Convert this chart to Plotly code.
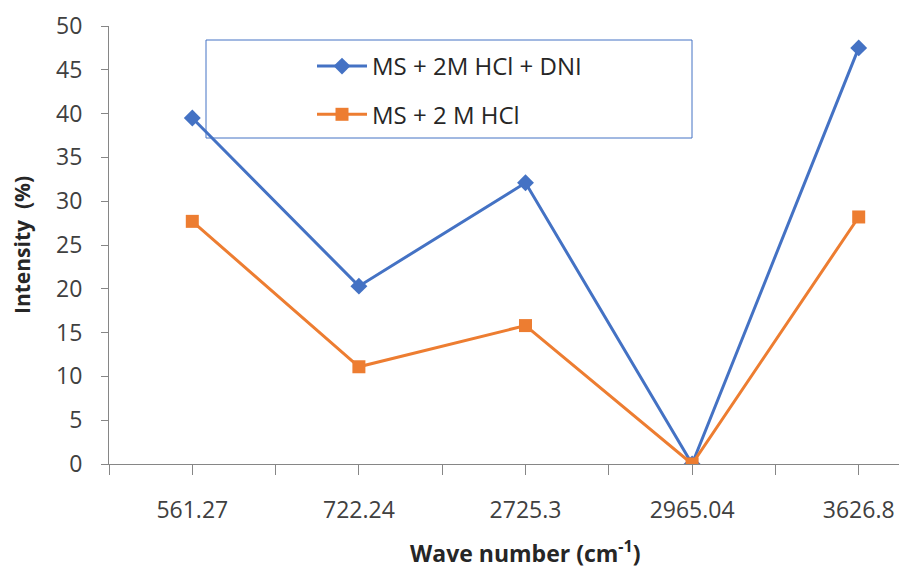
import plotly.graph_objects as go

categories = ["561.27", "722.24", "2725.3", "2965.04", "3626.8"]
dni_values = [39.5, 20.3, 32.1, 0.0, 47.5]
hcl_values = [27.7, 11.1, 15.8, 0.0, 28.2]
series_names = ["MS + 2M HCl + DNI", "MS + 2 M HCl"]
y_ticks = [0, 5, 10, 15, 20, 25, 30, 35, 40, 45, 50]

FONT = "Open Sans"
BLUE = "#4472C4"
ORANGE = "#ED7D31"
AXIS = "#868686"

xpos = list(range(len(categories)))

fig = go.Figure()
fig.add_trace(go.Scatter(
    x=xpos, y=dni_values, name=series_names[0], mode="lines+markers",
    line=dict(color=BLUE, width=3),
    marker=dict(symbol="diamond", size=13, color=BLUE),
    legendgroup="a",
))
fig.add_trace(go.Scatter(
    x=xpos, y=hcl_values, name=series_names[1], mode="lines+markers",
    line=dict(color=ORANGE, width=3),
    marker=dict(symbol="square", size=13, color=ORANGE),
    legendgroup="b",
))

W, H = 899, 571
L, R, T, B = 109, 0, 26, 107
pw = W - L - R
ph = H - T - B

def px_x(p):
    return (p - L) / pw

def px_y(p):
    return (H - B - p) / ph

step = 166.6
xmax = -0.5 + pw / step

fig.update_layout(
    width=W, height=H,
    margin=dict(l=L, r=R, t=T, b=B, pad=0),
    paper_bgcolor="white", plot_bgcolor="white",
    font=dict(family=FONT, color="#404040", size=22),
    showlegend=True,
    legend=dict(
        x=px_x(312), y=px_y(44), xanchor="left", yanchor="top",
        bgcolor="rgba(0,0,0,0)", borderwidth=0,
        font=dict(family=FONT, size=24, color="#262626"),
        tracegroupgap=14, itemwidth=50,
    ),
    xaxis=dict(
        range=[-0.5, xmax], showgrid=False, zeroline=False,
        showline=True, linecolor=AXIS, linewidth=1,
        tickmode="array", tickvals=xpos, ticktext=categories,
        ticks="outside", ticklen=10, tickcolor=AXIS, tickwidth=1,
        ticklabelstandoff=15,
        tickfont=dict(family=FONT, size=23, color="#404040"),
        minor=dict(tickmode="array", tickvals=[i - 0.5 for i in range(len(categories) + 1)],
                   ticks="outside", ticklen=10, tickcolor=AXIS, tickwidth=1),
    ),
    yaxis=dict(
        range=[0, 50], showgrid=False, zeroline=False,
        showline=True, linecolor=AXIS, linewidth=1,
        tickmode="array", tickvals=y_ticks,
        ticks="outside", ticklen=7, tickcolor=AXIS, tickwidth=1,
        ticklabelstandoff=14,
        tickfont=dict(family=FONT, size=23, color="#404040"),
    ),
    shapes=[dict(
        type="rect", xref="paper", yref="paper",
        x0=px_x(206), x1=px_x(692), y0=px_y(138), y1=px_y(40),
        line=dict(color=BLUE, width=1), fillcolor="rgba(0,0,0,0)", layer="below",
    )],
    annotations=[
        dict(text="<b>Wave number (cm<sup>-1</sup>)</b>", xref="x", x=2, yref="paper",
             y=px_y(552), xanchor="center", yanchor="middle", showarrow=False,
             font=dict(family=FONT, size=23, color="#262626")),
        dict(text="<b>Intensity\u00a0\u00a0(%)</b>", xref="paper", x=px_x(22), yref="paper",
             y=px_y(245), xanchor="center", yanchor="middle", showarrow=False, textangle=-90,
             font=dict(family=FONT, size=21, color="#262626")),
    ],
)

fig.write_html("out.html")
